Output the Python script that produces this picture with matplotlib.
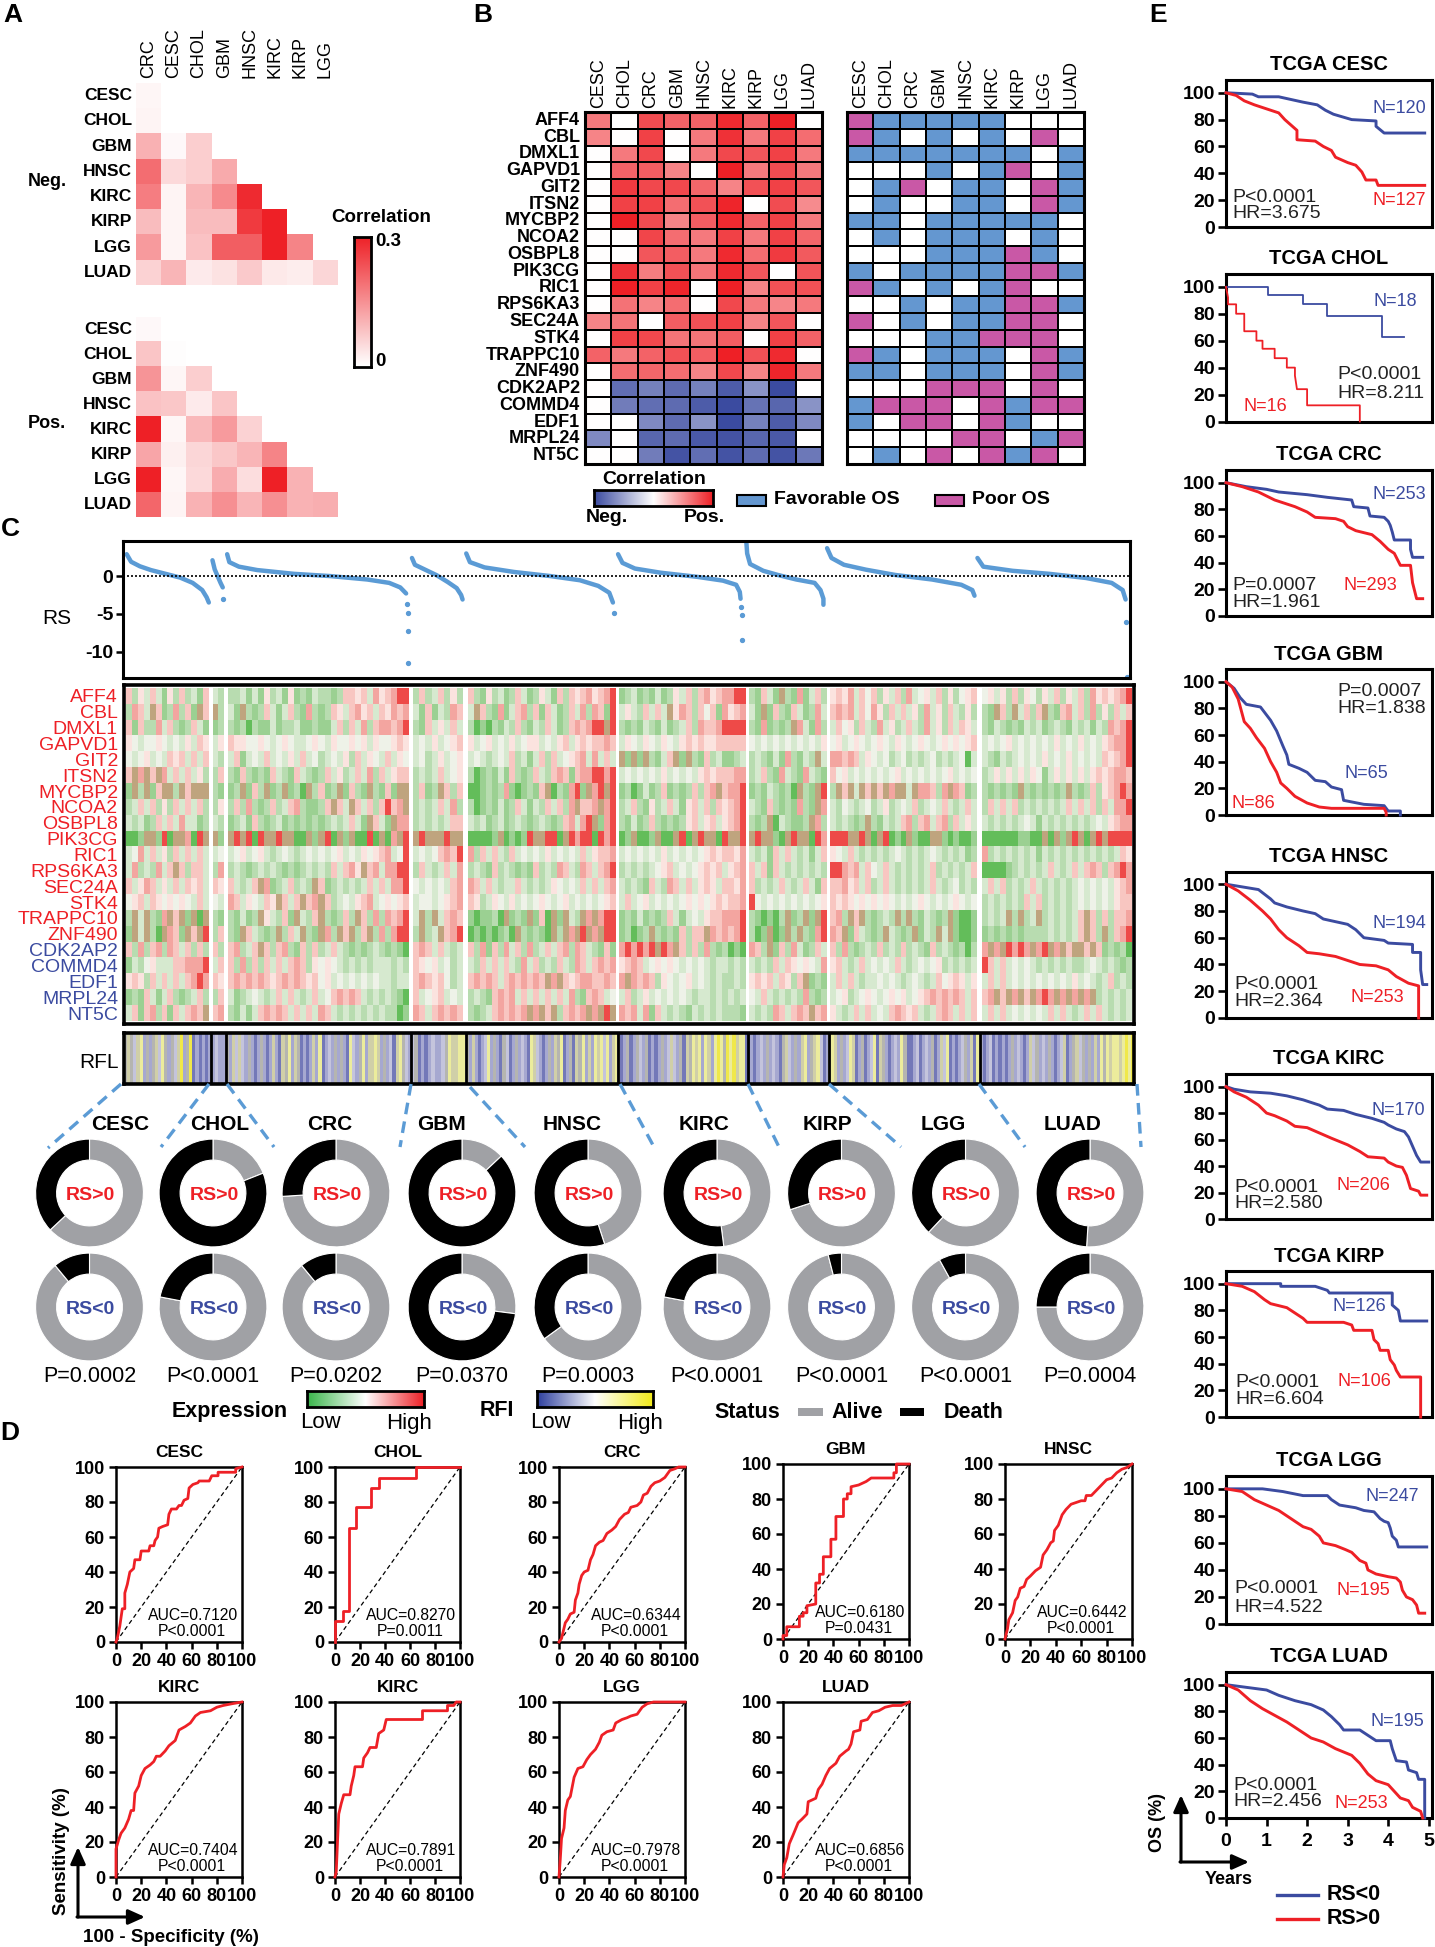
import numpy as np
import matplotlib
matplotlib.use("Agg")
import matplotlib.pyplot as plt
from matplotlib.colors import LinearSegmentedColormap, ListedColormap
from matplotlib.patches import Rectangle

plt.rcParams['font.family'] = ['Liberation Sans', 'DejaVu Sans']

W, H = 1435, 1947
RED = '#ee2026'
BLUE = '#3b4ba0'

# ---- panel A
a_rows = ['CESC', 'CHOL', 'GBM', 'HNSC', 'KIRC', 'KIRP', 'LGG', 'LUAD']
a_cols = ['CRC', 'CESC', 'CHOL', 'GBM', 'HNSC', 'KIRC', 'KIRP', 'LGG']
a_neg = [
    [.04],
    [.05],
    [.35, .03, .22],
    [.65, .17, .22, .38],
    [.58, .05, .33, .52, .95],
    [.30, .05, .30, .30, .88, 1.0],
    [.45, .05, .27, .72, .72, 1.0, .55],
    [.20, .33, .09, .13, .24, .10, .08, .18],
]
a_pos = [
    [.03],
    [.26, .01],
    [.48, .04, .22],
    [.27, .25, .09, .26],
    [1.0, .04, .32, .45, .20],
    [.40, .07, .18, .25, .33, .55],
    [1.0, .04, .17, .37, .15, 1.0, .34],
    [.68, .05, .34, .50, .33, .50, .34, .36],
]

# ---- panel B
b_cols = ['CESC', 'CHOL', 'CRC', 'GBM', 'HNSC', 'KIRC', 'KIRP', 'LGG', 'LUAD']
b_genes = ['AFF4', 'CBL', 'DMXL1', 'GAPVD1', 'GIT2', 'ITSN2', 'MYCBP2', 'NCOA2',
           'OSBPL8', 'PIK3CG', 'RIC1', 'RPS6KA3', 'SEC24A', 'STK4', 'TRAPPC10',
           'ZNF490', 'CDK2AP2', 'COMMD4', 'EDF1', 'MRPL24', 'NT5C']
b_corr = [
    [.60, 0, .80, .70, .70, .95, .70, 1.0, 0],
    [.55, 0, .85, 0, .60, .92, .60, .85, .65],
    [0, .60, .82, 0, .60, .82, .75, .85, .60],
    [0, .70, .72, .55, 0, 1.0, .60, .80, .60],
    [0, .88, .82, .82, .68, .55, .78, .85, .75],
    [0, .85, .85, .65, .78, .97, 0, .80, .52],
    [0, 1.0, .80, .55, .72, .95, .70, .85, .60],
    [0, 0, .83, .65, .60, .85, .60, .85, .68],
    [0, 0, .75, .72, .60, .95, .65, .88, .74],
    [0, .92, .58, .78, .62, .95, .75, 0, .76],
    [0, 1.0, .85, .97, 0, 1.0, .55, .78, .78],
    [0, .63, .55, .65, 0, .82, .60, .54, .60],
    [.55, .62, 0, .72, .78, .85, .55, .75, 0],
    [0, .85, .82, .62, .62, .72, 0, .85, .70],
    [.70, .60, .70, .78, .72, 1.0, .78, .95, 0],
    [0, .65, .68, .65, .55, .82, .55, .97, .60],
    [0, -.80, -.70, -.82, -.70, -.90, -.60, -1.0, 0],
    [0, -.72, -.80, -.82, -.90, -1.0, -.78, -.85, -.60],
    [0, 0, -.65, -.82, -.60, -1.0, -.70, -.90, -.65],
    [-.65, 0, -.85, -.82, -.92, -.95, -.85, -.92, 0],
    [0, 0, -.72, -.95, -.80, -.95, -.82, -.95, -.75],
]
# F favorable, P poor, . not significant
b_os = ['PFFFFF...', 'PF.F.F.P.', 'FFFFFFF.F', '...F.FP.F', '.FP.FF.PF',
        '.F..FF.PF', 'FF.FFFFF.', '.F.FFF.F.', '...FFFPF.', 'F.FFFFPPF',
        'PF.F.FP..', '..F.FFPPF', 'P.F.FFPP.', '...FFPPP.', 'PF.FFF.PF',
        'FF.FFF.PF', '...PPP.P.', 'FPPP.PFPP', 'F.PP.PF..', '....PP.FP',
        '.F.P.PFP.']

# ---- panel C: risk score by tumour, x is rank along the strip
tumours = ['CESC', 'CHOL', 'CRC', 'GBM', 'HNSC', 'KIRC', 'KIRP', 'LGG', 'LUAD']
rs_x = [
    [172, 178, 190, 205, 225, 245, 262, 275, 281, 284],
    [289, 292, 296, 300, 303],
    [309, 312, 325, 350, 400, 450, 500, 530, 545, 553],
    [561, 565, 580, 595, 610, 622, 628, 630],
    [635, 640, 660, 700, 750, 790, 815, 830, 835],
    [842, 848, 865, 900, 950, 985, 1003, 1008, 1009],
    [1017, 1018, 1022, 1040, 1060, 1085, 1110, 1118, 1122, 1122],
    [1127, 1133, 1150, 1180, 1220, 1270, 1310, 1325, 1328],
    [1332, 1340, 1380, 1430, 1480, 1515, 1530, 1534],
]
rs_y = [
    [2.9, 1.9, 1.3, .8, .3, -.2, -.9, -1.85, -2.8, -3.5],
    [2.1, .9, 0, -.9, -1.5],
    [2.9, 1.85, 1.25, .8, .3, 0, -.45, -.9, -1.5, -2.3],
    [2.4, 1.5, .8, .1, -.8, -1.6, -2.5, -3.1],
    [3.0, 1.85, 1.15, .55, 0, -.55, -1.3, -2.2, -3.5],
    [2.9, 1.75, 1.0, .45, -.1, -.6, -1.15, -2.1, -3.0],
    [4.4, 3.0, 1.6, .7, .15, -.45, -.9, -1.85, -3.0, -3.8],
    [3.7, 2.4, 1.5, .85, .15, -.45, -1.15, -1.85, -2.6],
    [2.4, 1.25, .7, .3, -.25, -.9, -1.85, -3.1],
]
rs_out_x = [303, 554, 555, 555, 556, 837, 1010, 1011, 1011, 1535, 1536]
rs_out_y = [-3.0, -3.7, -4.9, -7.3, -11.5, -4.9, -4.1, -5.1, -8.5, -6.1, -13.4]

# expression level codes, one string per gene, tumours split by |
heat_rows = [
    "62536315262316|32|223131523151213221266563756788|26236252|6215231263125316265675678|123121312536267567788|2163192171362|5657364625362734536252456|4535262542536253627565678",
    "27639612726196|92|319212631362172126536756365767|31613276|3962171367261631263727618|353263639576264617567|3191621631273|6767364752636352735263252|2196293626921673627252636",
    "61622736212631|12|212021131223112113626372677678|21635363|2010213262132631267678898|212132131236276678888|2171212973172|3645263273523632735263653|2132121323123213231327678",
    "54344543435365|35|655445434543345435445453544565|34353456|5345343534553435635656676|354354354356565566666|4343434343435|4534543454354345434545456|3434534343435343534356778",
    "43453436563636|32|361343634353634234352635436354|34235345|3432343623136263456737363|919192136919216231123|2321317213293|7767635434234232342323403|3213234343534353434365678",
    "69796973636352|26|216212163216321263523637263566|23236345|2012131621263267616778878|343434353434356566677|2362173217321|6453434343453434343453434|2353535354135353535656776",
    "19291699296999|21|129162912912092612916219216199|26129626|0012127101216902178197898|120131261212626796778|1213212092198|2969396969799397762797612|2121219212121292126256787",
    "23636252636362|25|262721262367211269639636268679|23236372|2012131263132636279667978|236215236315636265678|3216212172197|3243234235234362343632363|2636362323232363636263778",
    "32312636373312|32|123162123121212123236319631977|23232366|3231231232123212673789178|213126212125635635678|2129032112972|3232129213236726736726353|3232323431323232323435677",
    "00199180997089|91|989808998990091980919008090798|98999899|0000190101899880987880878|019001900980989908998|9899109899087|8889989098010910099101001|0000001100909198909898888",
    "34736352636363|34|345345323432343434534354567348|34346768|7263632634343534343635667|343434353434345656657|3231636323136|5436323232343232343232312|7232323231323232323232365",
    "37232736962663|27|232123232121232326367596737788|26323637|2321623212162327632763678|232323456343456563567|6361632323232|8876736436323232362323236|0000123232363236367626787",
    "63576353636563|65|632369712362329612323236363778|43434367|7636323363232354343636367|323216327636356536657|6232363236316|6675636236323232363234232|3636232363232323434343567",
    "45636545454363|43|763543659636967962343567345456|34434567|6523543534345434534343456|363453434345454565667|8434343434345|6565454545434345434345434|2323232636232323434343566",
    "29392179691909|21|213129532619326921262962727678|39293676|1011209121916091932979788|121312126313435667778|2101029129198|6729692123292921321291001|2323929239232323696262667",
    "19392097619698|26|219632129263921972969269272788|29239678|0101012092121092979897988|120129212162669767678|2019019292178|7691632129321291329391001|1212121222232323696292678",
    "62726727636262|62|672369626721626236321212321210|67636323|6271627362723636727632161|787878987962627212010|7629162731263|6272123262326232162321202|7979878797897969969612120",
    "13245333667778|36|627262636367625454323232333232|65453423|3263636327362326327636767|567634545434343233232|3232636545437|5632363434363234345232323|8636343432323232234323212",
    "56526363636787|65|676767656767656453434343433233|67656423|6767636767676979656776676|797676254345343232232|5656365269121|3636323343432343236456535|3636343434343435343236232",
    "12163136212362|26|312343236363236346767632323210|63456343|2321676736363636372167634|362353434343233232323|4363232327212|3452345434545345676767636|6796979697879797979232323",
    "36167261636769|67|213136767636363763232323232201|76367676|2123676767979692676797989|767371632321323232221|3232763676967|5323636343676563236763636|3636343434363632363632323",
]

# retained fraction level codes for the RFL strip
rfl_codes = ("3432451313425313246136010101|1211|"
             "314242131013101410435143010141501213131052135144541312045321|"
             "2301012112354455|"
             "31410125131032013121054210131435013043514154525145|"
             "101301321301013124213043545154156536564550|"
             "01012131210342131451345201|"
             "45413125401301250431012153001201213014250101231405|"
             "10120101013121014231213101240134231314153545545656")

# ---- donuts, death share of patients
death_pos = [.37, .81, .26, .87, .55, .52, .30, .38, .49]
death_neg = [.11, .22, .11, .73, .35, .22, .04, .08, .25]
donut_p = ['P=0.0002', 'P<0.0001', 'P=0.0202', 'P=0.0370', 'P=0.0003',
           'P<0.0001', 'P<0.0001', 'P<0.0001', 'P=0.0004']

# ---- panel D ROC curves
roc_titles = ['CESC', 'CHOL', 'CRC', 'GBM', 'HNSC', 'KIRC', 'KIRC', 'LGG', 'LUAD']
roc_auc = ['AUC=0.7120', 'AUC=0.8270', 'AUC=0.6344', 'AUC=0.6180', 'AUC=0.6442',
           'AUC=0.7404', 'AUC=0.7891', 'AUC=0.7978', 'AUC=0.6856']
roc_p = ['P<0.0001', 'P=0.0011', 'P<0.0001', 'P=0.0431', 'P<0.0001',
         'P<0.0001', 'P<0.0001', 'P<0.0001', 'P<0.0001']
roc_cesc = [(0, 0), (1, 2), (3, 9), (5, 19), (7, 19), (7, 28), (9, 33), (11, 40), (14, 42), (15, 47), (19, 47), (20, 52), (26, 52), (27, 55), (30, 55), (31, 58), (33, 60), (34, 65), (37, 66), (41, 67), (42, 73), (44, 76), (48, 76), (50, 78), (52, 78), (54, 81), (57, 82), (58, 88), (61, 90), (65, 91), (66, 92), (74, 92), (76, 95), (81, 95), (81, 97), (95, 97), (95, 99), (100, 100)]
roc_chol = [(0, 0), (0, 12), (6, 12), (6, 18), (11, 18), (11, 65), (17, 65), (17, 77), (29, 77), (29, 88), (35, 88), (35, 94), (65, 94), (65, 100), (100, 100)]
roc_crc = [(0, 0), (2, 2), (3, 5), (5, 11), (7, 13), (9, 16), (12, 17), (13, 24), (15, 28), (16, 33), (18, 38), (20, 40), (23, 41), (25, 47), (27, 50), (29, 55), (32, 57), (35, 58), (38, 62), (42, 64), (45, 66), (48, 70), (52, 73), (55, 74), (57, 77), (62, 78), (65, 80), (67, 84), (70, 85), (73, 89), (76, 91), (80, 92), (84, 94), (88, 98), (92, 99), (95, 100), (100, 100)]
roc_gbm = [(0, 0), (0, 2), (3, 2), (3, 7), (13, 7), (13, 13), (16, 13), (16, 15), (19, 15), (19, 19), (26, 20), (26, 32), (29, 32), (29, 37), (32, 37), (32, 47), (38, 47), (38, 57), (42, 57), (42, 70), (48, 70), (48, 80), (51, 80), (51, 83), (54, 83), (54, 87), (60, 88), (66, 90), (70, 92), (88, 92), (88, 95), (90, 95), (90, 100), (100, 100)]
roc_hnsc = [(0, 0), (2, 6), (3, 11), (6, 15), (8, 22), (10, 24), (12, 29), (15, 30), (17, 34), (20, 36), (24, 39), (28, 41), (30, 48), (33, 51), (36, 55), (38, 56), (39, 62), (42, 65), (45, 71), (48, 74), (52, 77), (56, 78), (60, 79), (63, 79), (64, 82), (68, 82), (72, 85), (76, 88), (80, 91), (84, 92), (88, 95), (92, 97), (96, 98), (100, 100)]
roc_kirc = [(0, 0), (0, 16), (2, 21), (4, 25), (7, 28), (10, 33), (12, 38), (14, 38), (15, 48), (18, 52), (20, 58), (23, 62), (27, 64), (30, 66), (32, 69), (35, 69), (39, 72), (42, 75), (47, 78), (50, 84), (55, 86), (59, 88), (63, 92), (67, 94), (75, 95), (80, 97), (85, 98), (92, 99), (100, 100)]
roc_kirc2 = [(0, 0), (1, 3), (2, 20), (3, 36), (5, 42), (7, 47), (12, 47), (13, 52), (15, 58), (16, 63), (22, 63), (23, 68), (26, 71), (28, 74), (33, 74), (35, 82), (39, 84), (41, 90), (70, 90), (70, 95), (90, 95), (90, 98), (95, 98), (97, 100), (100, 100)]
roc_lgg = [(0, 0), (1, 10), (2, 22), (4, 28), (5, 38), (7, 44), (9, 46), (12, 57), (15, 62), (19, 63), (22, 67), (25, 70), (29, 73), (32, 77), (34, 81), (38, 83), (43, 84), (45, 88), (50, 90), (54, 91), (57, 92), (62, 93), (66, 97), (70, 99), (75, 100), (100, 100)]
roc_luad = [(0, 0), (1, 7), (3, 11), (5, 19), (8, 24), (12, 31), (15, 33), (19, 36), (20, 43), (26, 45), (28, 50), (31, 53), (34, 58), (37, 62), (42, 65), (45, 69), (50, 72), (52, 73), (54, 76), (56, 83), (61, 84), (62, 89), (67, 90), (71, 94), (76, 95), (81, 97), (87, 98), (94, 98), (100, 100)]
roc_curves = [roc_cesc, roc_chol, roc_crc, roc_gbm, roc_hnsc, roc_kirc, roc_kirc2, roc_lgg, roc_luad]

# ---- panel E survival curves
km_names = ['CESC', 'CHOL', 'CRC', 'GBM', 'HNSC', 'KIRC', 'KIRP', 'LGG', 'LUAD']
km_blue = [
    [(0, 100), (.65, 99), (.8, 97), (1.3, 97), (1.6, 95), (1.9, 93), (2.25, 91), (2.45, 87), (2.65, 84), (3.1, 80), (3.7, 79), (3.7, 75), (3.9, 70), (4.9, 70)],
    [(0, 100), (1.03, 100), (1.03, 94), (1.9, 94), (1.9, 87), (2.5, 87), (2.5, 78), (3.85, 78), (3.85, 63), (4.4, 63)],
    [(0, 100), (.5, 97), (1.0, 95), (1.3, 93), (2.0, 91), (2.5, 89), (3.1, 87), (3.15, 82), (3.5, 81), (3.55, 75), (3.9, 74), (4, 71), (4.05, 68), (4.1, 63), (4.15, 57), (4.55, 57), (4.55, 50), (4.6, 44), (4.85, 44)],
    [(0, 100), (.2, 95), (.35, 88), (.5, 83), (.85, 81), (1.0, 75), (1.1, 71), (1.25, 63), (1.4, 52), (1.5, 45), (1.55, 38), (1.8, 35), (2.0, 32), (2.2, 26), (2.45, 25), (2.6, 21), (2.85, 19), (2.9, 11), (3.4, 8), (3.9, 7), (4.0, 3), (4.3, 3), (4.3, 0)],
    [(0, 100), (.4, 98), (.8, 96), (1.1, 89), (1.2, 86), (1.5, 83), (1.9, 80), (2.2, 78), (2.4, 74), (2.7, 72), (3, 70), (3.2, 66), (3.4, 60), (3.9, 58), (4.0, 56), (4.6, 55), (4.6, 49), (4.8, 49), (4.8, 36), (4.85, 25), (4.95, 25)],
    [(0, 100), (.2, 98), (.6, 96), (1.1, 95), (1.5, 93), (1.9, 90), (2.3, 86), (2.5, 83), (2.9, 82), (3.2, 79), (3.6, 76), (3.9, 73), (4.0, 71), (4.2, 68), (4.4, 66), (4.5, 62), (4.6, 55), (4.7, 48), (4.8, 43), (5.0, 43)],
    [(0, 100), (1.35, 100), (1.35, 98), (2.2, 98), (2.5, 95), (2.55, 93), (4.1, 93), (4.1, 84), (4.25, 80), (4.3, 72), (4.95, 72)],
    [(0, 100), (.9, 100), (1.4, 98), (1.9, 95), (2.5, 95), (2.6, 92), (2.8, 88), (3.2, 86), (3.4, 84), (3.65, 83), (3.8, 78), (3.9, 76), (4.0, 75), (4.05, 71), (4.1, 65), (4.2, 62), (4.25, 57), (4.95, 57)],
    [(0, 100), (.5, 98), (1.0, 96), (1.3, 92), (1.7, 88), (2.1, 85), (2.4, 81), (2.6, 76), (2.8, 70), (2.9, 66), (3.3, 66), (3.5, 62), (3.7, 58), (4.05, 58), (4.1, 52), (4.2, 43), (4.45, 42), (4.5, 36), (4.7, 34), (4.75, 29), (4.9, 29), (4.9, 0)],
]
km_red = [
    [(0, 100), (.25, 98), (.45, 94), (.7, 91), (1.0, 88), (1.3, 85), (1.45, 80), (1.6, 76), (1.75, 72), (1.75, 65), (2.2, 64), (2.4, 60), (2.6, 57), (2.7, 52), (3.0, 48), (3.2, 46), (3.35, 41), (3.45, 35), (3.7, 35), (3.75, 31), (4.9, 31)],
    [(0, 100), (.05, 92), (.05, 87), (.25, 87), (.25, 80), (.45, 80), (.45, 67), (.75, 67), (.75, 60), (.9, 60), (.9, 54), (1.2, 54), (1.2, 47), (1.5, 47), (1.5, 40), (1.7, 40), (1.7, 34), (1.75, 24), (2.0, 24), (2.0, 12), (3.3, 12), (3.3, 0)],
    [(0, 100), (.4, 97), (.8, 93), (1.2, 87), (1.7, 82), (2.0, 78), (2.2, 74), (2.7, 73), (2.9, 71), (3.0, 67), (3.2, 64), (3.6, 61), (3.8, 56), (4.0, 50), (4.15, 47), (4.25, 41), (4.3, 38), (4.55, 38), (4.6, 25), (4.7, 13), (4.85, 13)],
    [(0, 100), (.15, 96), (.3, 87), (.45, 70), (.6, 65), (.75, 58), (.95, 50), (1.1, 40), (1.25, 32), (1.35, 24), (1.5, 20), (1.7, 14), (2.0, 9), (2.3, 6), (2.6, 5), (3.9, 5), (3.95, 2), (3.95, 0)],
    [(0, 100), (.3, 95), (.6, 88), (.9, 80), (1.1, 74), (1.3, 66), (1.5, 60), (1.8, 54), (2.0, 49), (2.3, 48), (2.7, 46), (2.9, 44), (3.3, 40), (3.7, 39), (4.0, 36), (4.2, 31), (4.5, 26), (4.75, 24), (4.75, 0)],
    [(0, 100), (.2, 96), (.5, 92), (.8, 86), (1.0, 80), (1.2, 78), (1.5, 74), (1.7, 70), (2.0, 69), (2.3, 65), (2.6, 61), (3, 56), (3.3, 51), (3.5, 47), (3.9, 46), (4.0, 43), (4.2, 40), (4.35, 39), (4.45, 33), (4.55, 23), (4.75, 21), (4.8, 18), (4.95, 18)],
    [(0, 100), (.4, 98), (.7, 94), (.95, 88), (1.1, 85), (1.5, 82), (1.7, 78), (1.9, 74), (2, 71), (2.9, 71), (3.1, 69), (3.15, 65), (3.6, 65), (3.65, 58), (3.75, 55), (3.8, 50), (4.0, 50), (4.05, 43), (4.15, 39), (4.2, 35), (4.3, 30), (4.8, 30), (4.8, 0)],
    [(0, 100), (.4, 98), (.7, 92), (1.0, 88), (1.3, 84), (1.6, 78), (1.9, 72), (2.1, 70), (2.3, 65), (2.4, 60), (2.7, 58), (2.95, 55), (3.1, 53), (3.3, 47), (3.45, 45), (3.5, 40), (3.7, 37), (4.0, 35), (4.2, 34), (4.3, 31), (4.35, 25), (4.45, 20), (4.6, 18), (4.7, 14), (4.75, 8), (4.9, 8)],
    [(0, 100), (.3, 96), (.6, 88), (.9, 82), (1.2, 77), (1.5, 72), (1.8, 66), (2.1, 60), (2.4, 57), (2.7, 52), (3.1, 47), (3.3, 41), (3.5, 33), (3.7, 28), (4.0, 25), (4.15, 20), (4.3, 15), (4.5, 13), (4.6, 8), (4.8, 5), (4.85, 0)],
]
km_p = ['P<0.0001', 'P<0.0001', 'P=0.0007', 'P=0.0007', 'P<0.0001', 'P<0.0001', 'P<0.0001', 'P<0.0001', 'P<0.0001']
km_hr = ['HR=3.675', 'HR=8.211', 'HR=1.961', 'HR=1.838', 'HR=2.364', 'HR=2.580', 'HR=6.604', 'HR=4.522', 'HR=2.456']
km_n_blue = ['N=120', 'N=18', 'N=253', 'N=65', 'N=194', 'N=170', 'N=126', 'N=247', 'N=195']
km_n_red = ['N=127', 'N=16', 'N=293', 'N=86', 'N=253', 'N=206', 'N=106', 'N=195', 'N=253']


def ax_px(x0, y0, x1, y1, **kw):
    return fig.add_axes([x0 / W, 1 - y1 / H, (x1 - x0) / W, (y1 - y0) / H], **kw)


def txt(x, y, s, size=13, weight='normal', color='k', ha='center', va='center', rot=0):
    over.text(x, y, s, fontsize=size, fontweight=weight, color=color, ha=ha, va=va, rotation=rot)


def arrow(x0, y0, x1, y1):
    over.annotate('', xy=(x1, y1), xytext=(x0, y0),
                  arrowprops=dict(arrowstyle='-|>,head_width=0.45,head_length=1.0', color='k', lw=2.2,
                                  shrinkA=0, shrinkB=0))


def gradient(x0, y0, x1, y1, cmap, vertical=False):
    ax = ax_px(x0, y0, x1, y1)
    g = np.linspace(0, 1, 256)
    g = g[::-1, None] if vertical else g[None, :]
    ax.imshow(g, aspect='auto', cmap=cmap, vmin=0, vmax=1)
    ax.set_xticks([])
    ax.set_yticks([])
    for s in ax.spines.values():
        s.set_linewidth(2)


fig = plt.figure(figsize=(W / 100, H / 100), dpi=100)
over = ax_px(0, 0, W, H, facecolor='none', zorder=10)
over.set_xlim(0, W)
over.set_ylim(H, 0)
over.axis('off')

for s, x, y in [('A', 13, 15), ('B', 483, 15), ('C', 10, 529), ('D', 10, 1433), ('E', 1158, 15)]:
    txt(x, y, s, size=19, weight='bold')

# ---------- A
white_red = LinearSegmentedColormap.from_list('wr', ['#ffffff', RED])
for vals, top, bot, side, side_y in [(a_neg, 83, 285, 'Neg.', 182), (a_pos, 316.5, 517.5, 'Pos.', 424)]:
    ax = ax_px(136, top, 338, bot)
    m = np.full((8, 8), np.nan)
    for i, row in enumerate(vals):
        m[i, :len(row)] = row
    ax.imshow(m, aspect='auto', cmap=white_red, vmin=0, vmax=1, interpolation='nearest')
    ax.axis('off')
    rh = (bot - top) / 8
    for i, name in enumerate(a_rows):
        txt(132, top + rh * (i + .5), name, size=12.5, weight='bold', ha='right')
    txt(47, side_y, side, size=13, weight='bold')
for j, name in enumerate(a_cols):
    txt(136 + 25.25 * (j + .5), 78, name, size=13, va='bottom', rot=90)
gradient(354, 236.5, 371, 366.5, white_red, vertical=True)
txt(381, 218, 'Correlation', size=13.5, weight='bold')
txt(375, 241.5, '0.3', size=13.5, weight='bold', ha='left')
txt(375, 362, '0', size=13.5, weight='bold', ha='left')

# ---------- B
blue_red = LinearSegmentedColormap.from_list('br', [BLUE, '#ffffff', RED])
ax = ax_px(585, 112, 822, 464)
ax.pcolormesh(np.array(b_corr), cmap=blue_red, vmin=-1, vmax=1, edgecolors='k', linewidth=1.2)
ax.set_ylim(21, 0)
ax.set_xticks([])
ax.set_yticks([])
for s in ax.spines.values():
    s.set_linewidth(2.2)
for i, g_name in enumerate(b_genes):
    txt(580, 112 + 352 / 21 * (i + .5), g_name, size=13, weight='bold', ha='right')
for j, name in enumerate(b_cols):
    txt(585 + 237 / 9 * (j + .5), 107.5, name, size=13, va='bottom', rot=90)
    txt(847 + 237 / 9 * (j + .5), 107.5, name, size=13, va='bottom', rot=90)

os_cmap = ListedColormap(['#ffffff', '#6497d0', '#c958a6'])
os_code = {'.': 0, 'F': 1, 'P': 2}
ax = ax_px(847, 112, 1084, 464)
ax.pcolormesh(np.array([[os_code[c] for c in r] for r in b_os]), cmap=os_cmap, vmin=0, vmax=2,
              edgecolors='k', linewidth=1.2)
ax.set_ylim(21, 0)
ax.set_xticks([])
ax.set_yticks([])
for s in ax.spines.values():
    s.set_linewidth(2.2)

gradient(594, 490, 713, 506, blue_red)
txt(654, 479, 'Correlation', size=14, weight='bold')
txt(607, 517, 'Neg.', size=14, weight='bold')
txt(704, 517, 'Pos.', size=14, weight='bold')
over.add_patch(Rectangle((737, 495), 29, 11, fc='#6497d0', ec='k', lw=1.5))
over.add_patch(Rectangle((935, 495), 29, 11, fc='#c958a6', ec='k', lw=1.5))
txt(774, 500, 'Favorable OS', size=14, weight='bold', ha='left')
txt(972, 500, 'Poor OS', size=14, weight='bold', ha='left')

# ---------- C RS strip
ax = ax_px(123, 541, 1130, 678)
for xs, ys in zip(rs_x, rs_y):
    ax.plot(xs, ys, '-', color='#5b9bd5', lw=3.2, solid_capstyle='round')
ax.plot(rs_out_x, rs_out_y, 'o', color='#5b9bd5', ms=2.8, ls='none')
ax.axhline(0, color='k', ls=(0, (1.2, 1.2)), lw=1.2)
ax.set_xlim(167, 1540)
ax.set_ylim(-13.5, 4.65)
ax.set_xticks([])
ax.set_yticks([0, -5, -10])
ax.set_yticklabels(['0', '-5', '-10'], fontsize=14, fontweight='bold')
ax.tick_params(axis='y', length=5, width=1.8, pad=2)
for s in ax.spines.values():
    s.set_linewidth(2.2)
txt(57, 619, 'RS', size=15)

# ---------- C expression heatmap
seg_px = [(126, 209), (213, 224), (228, 409), (413, 463), (468, 616),
          (619, 746), (749, 827), (830, 977), (982, 1132)]
expr_cmap = ListedColormap(['#63bd5a', '#9bd092', '#b8dcb0', '#d6e9cf', '#eef2e8',
                            '#fbe3df', '#f8c6c1', '#f3a5a0', '#ee4a48', '#bfa47e'])
ax = ax_px(124, 685, 1134, 1024)
row_h = (1021 - 688) / 21
for i, line in enumerate(heat_rows):
    for (x0, x1), part in zip(seg_px, line.split('|')):
        ax.imshow(np.array([[int(c) for c in part]]), aspect='auto', cmap=expr_cmap, vmin=-.5, vmax=9.5,
                  interpolation='nearest', extent=(x0, x1, 688 + row_h * (i + 1), 688 + row_h * i))
ax.set_xlim(124, 1134)
ax.set_ylim(1024, 685)
ax.set_xticks([])
ax.set_yticks([])
for s in ax.spines.values():
    s.set_linewidth(2.6)
for i, g_name in enumerate(b_genes):
    txt(118, 688 + row_h * (i + .5) + 2, g_name, size=14, color=RED if i < 16 else BLUE, ha='right')

# ---------- C RFL strip
rfl_cmap = ListedColormap(['#7378b8', '#a6a8d0', '#c4c4dc', '#b5b5b0', '#d0cfa8', '#ecec9c', '#f0e84a'])
ax = ax_px(124, 1033, 1134, 1084)
for (x0, x1), part in zip(seg_px, rfl_codes.split('|')):
    ax.imshow(np.array([[int(c) for c in part]]), aspect='auto', cmap=rfl_cmap, vmin=-.5, vmax=6.5,
              interpolation='nearest', extent=(x0 - 2, x1 + 2, 0, 1))
for k in range(1, len(seg_px)):
    ax.axvline((seg_px[k - 1][1] + seg_px[k][0]) / 2, color='k', lw=2)
ax.set_xlim(124, 1134)
ax.set_ylim(0, 1)
ax.set_xticks([])
ax.set_yticks([])
for s in ax.spines.values():
    s.set_linewidth(2.6)
txt(99, 1062, 'RFL', size=15)

# dashed leaders from strip to donuts
for (x0, y0, x1, y1) in [(121, 1084, 48, 1148), (209, 1084, 161, 1147), (227, 1084, 274, 1147),
                         (411, 1084, 400, 1147), (470, 1087, 525, 1147), (620, 1084, 654, 1147),
                         (748, 1084, 779, 1147), (829, 1084, 901, 1147), (979, 1084, 1025, 1147),
                         (1137, 1084, 1141, 1147)]:
    over.plot([x0, x1], [y0, y1], color='#5b9bd5', lw=2.4, ls=(0, (3.5, 2.2)))

# ---------- C donuts
cx = [89.5, 213, 336, 462, 588, 717, 841.5, 965.5, 1090]
title_x = [120, 220, 330, 442, 572, 704, 827, 943, 1073]
for k, name in enumerate(tumours):
    txt(title_x[k], 1125, name, size=15, weight='bold')
    for cy, d, lab, col in [(1193, death_pos[k], 'RS>0', RED), (1307, death_neg[k], 'RS<0', BLUE)]:
        ax = ax_px(cx[k] - 55, cy - 55, cx[k] + 55, cy + 55)
        ax.pie([1 - d, d], colors=['#a0a1a5', 'k'], startangle=90, counterclock=False, radius=1,
               wedgeprops=dict(width=.39, edgecolor='white', linewidth=.8))
        ax.set_xlim(-1.02, 1.02)
        ax.set_ylim(-1.02, 1.02)
        txt(cx[k] + 1, cy + 3, lab, size=14, weight='bold', color=col)
    txt(cx[k], 1377, donut_p[k], size=15.5)

green_red = LinearSegmentedColormap.from_list('gr', ['#39b54a', '#ffffff', RED])
blue_yellow = LinearSegmentedColormap.from_list('by', ['#2e3f9e', '#ffffff', '#f2ea1a'])
gradient(307, 1391, 424, 1407, green_red)
gradient(537, 1391, 653, 1407, blue_yellow)
txt(230, 1412, 'Expression', size=15.5, weight='bold')
txt(320, 1423, 'Low', size=16)
txt(409, 1423, 'High', size=16)
txt(497, 1410, 'RFI', size=15.5, weight='bold')
txt(550, 1423, 'Low', size=16)
txt(640, 1423, 'High', size=16)
txt(747, 1412, 'Status', size=15.5, weight='bold')
over.add_patch(Rectangle((798, 1408), 25, 8, fc='#a0a1a5', ec='none'))
txt(857, 1412, 'Alive', size=15.5, weight='bold')
over.add_patch(Rectangle((900, 1408), 24, 8, fc='k', ec='none'))
txt(974, 1412, 'Death', size=15.5, weight='bold')

# ---------- D
roc_boxes = [(116, 1467, 242, 1642), (335, 1467, 460, 1642), (559, 1467, 685, 1642),
             (783, 1464, 909, 1639), (1005, 1464, 1132, 1639),
             (116, 1702, 242, 1877), (335, 1702, 460, 1877), (559, 1702, 685, 1877),
             (783, 1702, 909, 1877)]
for k, (box, curve) in enumerate(zip(roc_boxes, roc_curves)):
    ax = ax_px(*box)
    ax.plot([0, 100], [0, 100], color='k', lw=.9, ls=(0, (3.5, 2.5)))
    ax.plot([p[0] for p in curve], [p[1] for p in curve], color=RED, lw=2, clip_on=False, zorder=5)
    ax.set_xlim(0, 100)
    ax.set_ylim(0, 100)
    ax.set_xticks(range(0, 101, 20))
    ax.set_yticks(range(0, 101, 20))
    ax.tick_params(length=5, width=1.8, pad=3)
    for lab in ax.get_xticklabels() + ax.get_yticklabels():
        lab.set_fontsize(13)
        lab.set_fontweight('bold')
    for s in ax.spines.values():
        s.set_linewidth(1.8)
    ax.set_title(roc_titles[k], fontsize=12.5, fontweight='bold', pad=7)
    ax.text(61, 15, roc_auc[k], fontsize=11.3, ha='center', va='center')
    ax.text(60, 6, roc_p[k], fontsize=11.3, ha='center', va='center')
txt(61, 1851, 'Sensitivity (%)', size=13.5, weight='bold', rot=90)
txt(171, 1937, '100 - Specificity (%)', size=13.5, weight='bold')
arrow(78, 1917, 78, 1847)
arrow(77, 1917, 145, 1917)

# ---------- E
km_boxes = [(80, 227), (274, 421.5), (470, 616), (669, 815), (871.5, 1018), (1074, 1219),
            (1271, 1417), (1476, 1624), (1672, 1818)]
km_left = [(.15, 22, 10), (2.74, 35, 21), (.15, 22.5, 10), (2.74, 93, 80), (.2, 25, 12),
           (.2, 24, 12), (.22, 26, 13), (.2, 26, 12), (.18, 24, 12)]
km_blue_n = [(4.28, 88), (4.17, 89), (4.28, 91), (3.47, 31), (4.28, 71), (4.24, 82), (3.29, 83), (4.09, 94), (4.22, 72)]
km_red_n = [(4.28, 20), (.96, 11), (3.55, 23), (.68, 9), (3.74, 15), (3.4, 25), (3.41, 27), (3.4, 25), (3.33, 11)]
for k, (top, bot) in enumerate(km_boxes):
    ax = ax_px(1226, top, 1432, bot)
    thin = km_names[k] == 'CHOL'
    for curve, col in [(km_blue[k], BLUE), (km_red[k], RED)]:
        ax.plot([p[0] for p in curve], [p[1] for p in curve], color=col,
                lw=1.3 if thin else 2.1, clip_on=False, zorder=4)
    ax.set_xlim(0, 5.08)
    ax.set_ylim(0, 109.5)
    ax.set_yticks(range(0, 101, 20))
    for lab in ax.get_yticklabels():
        lab.set_fontsize(14)
        lab.set_fontweight('bold')
    ax.tick_params(axis='y', length=6, width=1.9, pad=2)
    if k == len(km_boxes) - 1:
        ax.set_xticks(range(6))
        ax.tick_params(axis='x', length=6, width=1.9, pad=5)
        for lab in ax.get_xticklabels():
            lab.set_fontsize(14)
            lab.set_fontweight('bold')
    else:
        ax.set_xticks([])
    for s in ax.spines.values():
        s.set_linewidth(2.2)
    txt(1329, top - 15, 'TCGA ' + km_names[k], size=14.5, weight='bold')
    lx, py, hy = km_left[k]
    ax.text(lx, py, km_p[k], fontsize=14, ha='left', va='center', color='#222222')
    ax.text(lx, hy, km_hr[k], fontsize=14, ha='left', va='center', color='#222222')
    ax.text(km_blue_n[k][0], km_blue_n[k][1], km_n_blue[k], fontsize=13, color=BLUE, ha='center', va='center')
    ax.text(km_red_n[k][0], km_red_n[k][1], km_n_red[k], fontsize=13, color=RED, ha='center', va='center')

txt(1158, 1823, 'OS (%)', size=13, weight='bold', rot=90)
txt(1229, 1880, 'Years', size=13, weight='bold')
arrow(1181, 1862, 1181, 1795)
arrow(1180, 1862, 1249, 1862)
over.plot([1277, 1318], [1895, 1895], color=BLUE, lw=2.4)
over.plot([1277, 1318], [1919, 1919], color=RED, lw=2.4)
txt(1327, 1895, 'RS<0', size=15.5, weight='bold', ha='left')
txt(1327, 1919, 'RS>0', size=15.5, weight='bold', ha='left')

fig.savefig('out.png', dpi=100)
